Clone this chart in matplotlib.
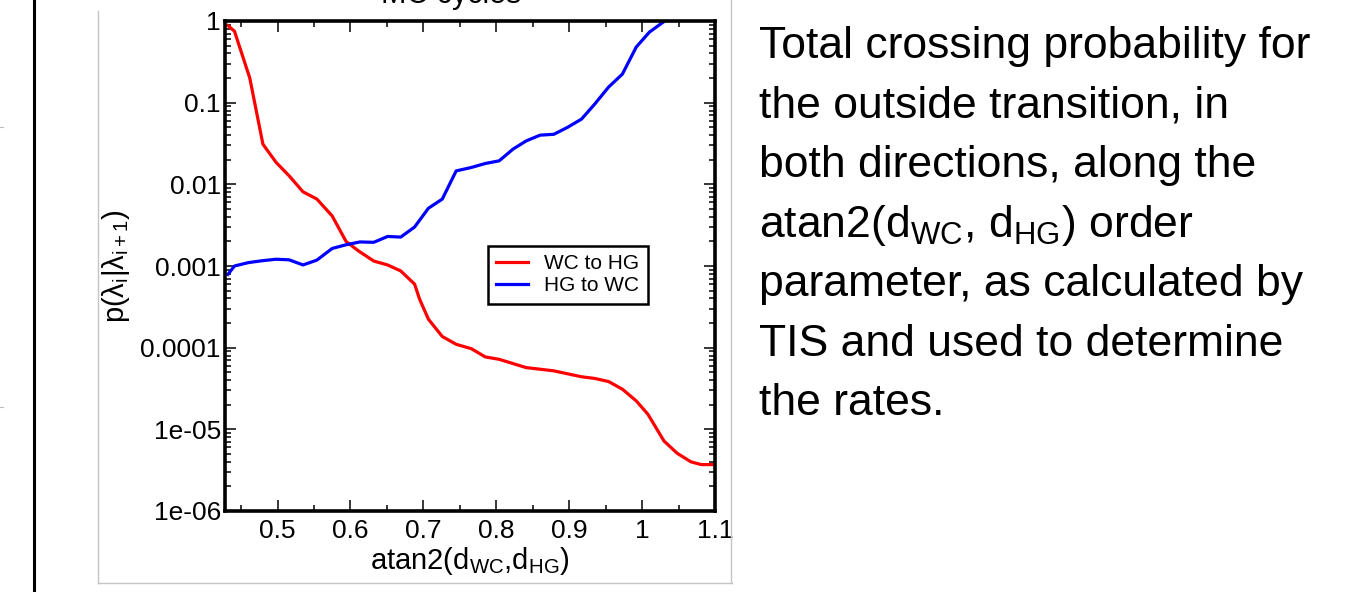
import matplotlib
matplotlib.use("Agg")
import matplotlib.pyplot as plt
from matplotlib.lines import Line2D
from matplotlib.ticker import LogLocator, MultipleLocator, NullFormatter

plt.rcParams['font.family'] = ['Liberation Sans', 'DejaVu Sans']
plt.rcParams['mathtext.fontset'] = 'custom'
plt.rcParams['mathtext.rm'] = 'Liberation Sans'
plt.rcParams['mathtext.it'] = 'Liberation Sans:italic'
plt.rcParams['mathtext.bf'] = 'Liberation Sans:bold'

# WC -> HG crossing probability
wc_x = [0.432, 0.441, 0.462, 0.480, 0.498, 0.516, 0.535, 0.554, 0.575, 0.594,
        0.611, 0.632, 0.651, 0.669, 0.688, 0.695, 0.707, 0.726, 0.745, 0.766,
        0.785, 0.804, 0.841, 0.879, 0.917, 0.935, 0.954, 0.973, 0.992, 1.008,
        1.030, 1.048, 1.067, 1.081, 1.100]
wc_p = [0.88, 0.75, 0.20, 0.031, 0.0186, 0.0127, 0.0081, 0.0066, 0.0041, 0.0020,
        0.00153, 0.00115, 0.00103, 0.00087, 0.0006, 0.00039, 0.000223, 0.000137, 0.00011, 0.000097,
        0.000077, 0.000072, 0.000057, 0.000052, 0.000044, 0.000042, 0.0000385, 0.000031, 0.0000223, 0.0000153,
        0.0000072, 0.0000051, 0.000004, 0.0000037, 0.0000037]

# HG -> WC crossing probability
hg_x = [0.432, 0.441, 0.460, 0.479, 0.498, 0.516, 0.535, 0.554, 0.575, 0.594,
        0.613, 0.632, 0.651, 0.669, 0.688, 0.707, 0.726, 0.745, 0.766, 0.785,
        0.804, 0.823, 0.841, 0.860, 0.879, 0.898, 0.917, 0.935, 0.954, 0.973,
        0.992, 1.010, 1.031]
hg_p = [0.00079, 0.0010, 0.0011, 0.00116, 0.00121, 0.00119, 0.00103, 0.00118, 0.00164, 0.00182,
        0.00197, 0.00195, 0.0023, 0.00226, 0.0030, 0.0051, 0.0066, 0.0146, 0.0161, 0.018,
        0.0194, 0.027, 0.034, 0.040, 0.041, 0.050, 0.063, 0.096, 0.155, 0.224,
        0.48, 0.73, 1.0]

series_names = ["WC to HG", "HG to WC"]
x_ticks = [0.5, 0.6, 0.7, 0.8, 0.9, 1.0, 1.1]
x_ticklabels = ["0.5", "0.6", "0.7", "0.8", "0.9", "1", "1.1"]
y_ticks = [1, 0.1, 0.01, 0.001, 0.0001, 1e-05, 1e-06]
y_ticklabels = ["1", "0.1", "0.01", "0.001", "0.0001", "1e-05", "1e-06"]

caption = [
    "Total crossing probability for",
    "the outside transition, in",
    "both directions, along the",
    r"atan2(d$_{\mathrm{WC}}$, d$_{\mathrm{HG}}$) order",
    "parameter, as calculated by",
    "TIS and used to determine",
    "the rates.",
]

W, H = 1369, 592
fig = plt.figure(figsize=(W / 100, H / 100), dpi=100)

# slide decorations: black rule on the left, grey frame round the plot image
fig.add_artist(Line2D([33.5 / W, 33.5 / W], [0, 1], color="black", lw=2.2))
for yy in (127, 407):
    fig.add_artist(Line2D([0, 3 / W], [1 - yy / H, 1 - yy / H], color="#bbbbbb", lw=0.8))
gray = "#c4c4c4"
fig.add_artist(Line2D([98 / W, 98 / W], [1 - 11 / H, 1 - 583 / H], color=gray, lw=1))
fig.add_artist(Line2D([98 / W, 732 / W], [1 - 583 / H, 1 - 583 / H], color=gray, lw=1))
fig.add_artist(Line2D([731 / W, 731 / W], [1, 1 - 583 / H], color=gray, lw=1))

ax = fig.add_axes([225 / W, 1 - 511 / H, 490 / W, 490 / H])
ax.plot(wc_x, wc_p, color="#ff0000", lw=2.3, label=series_names[0])
ax.plot(hg_x, hg_p, color="#0000ff", lw=2.3, label=series_names[1])
ax.set_yscale("log")
ax.set_xlim(0.428, 1.1)
ax.set_ylim(1e-06, 1)

ax.set_xticks(x_ticks)
ax.set_xticklabels(x_ticklabels)
ax.xaxis.set_minor_locator(MultipleLocator(0.05))
ax.set_yticks(y_ticks)
ax.set_yticklabels(y_ticklabels)
ax.yaxis.set_minor_locator(LogLocator(base=10, subs=range(2, 10), numticks=20))
ax.yaxis.set_minor_formatter(NullFormatter())

ax.tick_params(which="both", direction="in", top=True, right=True, width=1.1, colors="black")
ax.tick_params(which="major", length=8)
ax.tick_params(which="minor", length=4.5)
ax.tick_params(axis="x", which="major", labelsize=19, pad=6)
ax.tick_params(axis="y", which="major", labelsize=19, pad=3)
for sp in ax.spines.values():
    sp.set_linewidth(2.6)

ax.set_xlabel(r"atan2(d$_{\mathrm{WC}}$,d$_{\mathrm{HG}}$)", fontsize=21)
ax.xaxis.set_label_coords(0.5, -0.07)
ax.set_ylabel(r"p($\mathrm{\lambda}_{\mathrm{i}}$|$\mathrm{\lambda}_{\mathrm{i+1}}$)", fontsize=21)
ax.yaxis.set_label_coords(-0.19, 0.5)

fig.text(451 / W, 1 - 3 / H, "MC cycles", fontsize=22, ha="center", va="baseline")

leg = ax.legend(loc="upper left", bbox_to_anchor=(0.537, 0.541), borderaxespad=0,
                fontsize=15, handlelength=1.5, handletextpad=0.8, borderpad=0.4,
                labelspacing=0.15, fancybox=False, framealpha=1)
leg.get_frame().set_edgecolor("black")
leg.get_frame().set_linewidth(1.8)

base = 58
for i, line in enumerate(caption):
    fig.text(759 / W, 1 - (base + i * 59.5) / H, line, fontsize=32, ha="left", va="baseline")

fig.savefig("out.png", dpi=100)
